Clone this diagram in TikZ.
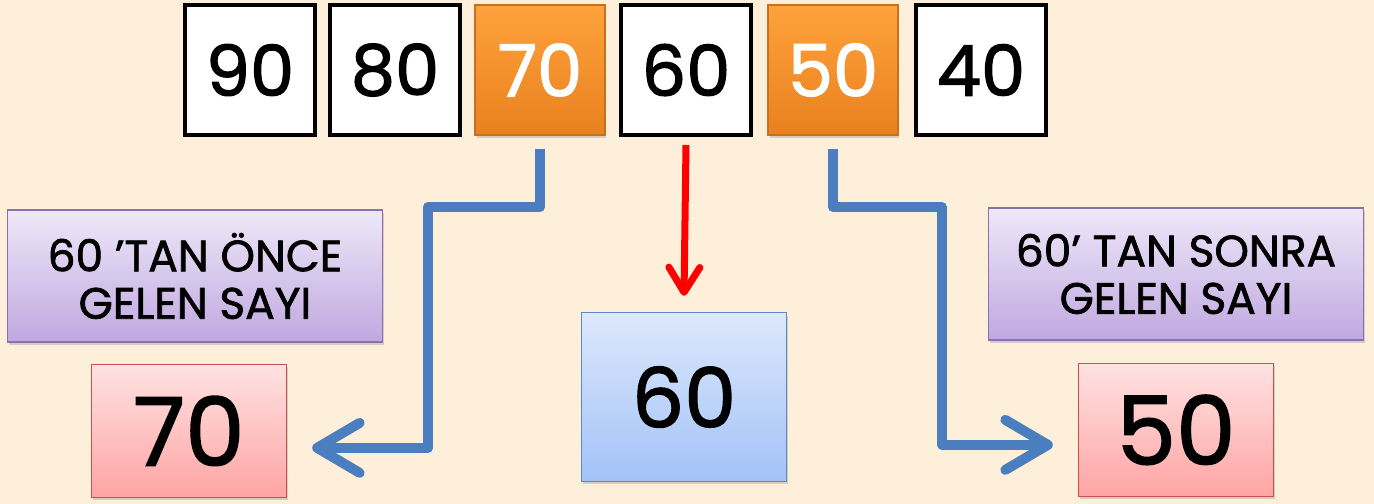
\documentclass[tikz,border=0pt]{standalone}
\usepackage{fontspec}
\setmainfont{Poppins}[FakeBold=1.6]
\usetikzlibrary{positioning, arrows.meta, shadows}

\definecolor{bgcream}{HTML}{FDEFDA}
\definecolor{orangetop}{HTML}{FFA23C}
\definecolor{orangebot}{HTML}{E8811F}
\definecolor{orangeedge}{HTML}{C8701E}
\definecolor{purpletop}{HTML}{EEE8F8}
\definecolor{purplebot}{HTML}{C0A8E0}
\definecolor{purpleedge}{HTML}{8A70B0}
\definecolor{redtop}{HTML}{FFE2E2}
\definecolor{redbot}{HTML}{FFA4A4}
\definecolor{rededge}{HTML}{C8504D}
\definecolor{bluetop}{HTML}{DDE8FC}
\definecolor{bluebot}{HTML}{A2C2F8}
\definecolor{blueedge}{HTML}{5A8AC8}
\definecolor{lineblue}{HTML}{4A7EBF}

\begin{document}
\begin{tikzpicture}[x=0.02cm, y=-0.02cm,
        softshadow/.style={drop shadow={shadow xshift=0.03cm, shadow yshift=-0.06cm, opacity=0.3}},
        numbox/.style={rectangle, draw=black, line width=0.08cm, fill=white, minimum width=2.6cm, minimum height=2.6cm, inner sep=0pt, font=\fontsize{40}{40}\selectfont},
        orangebox/.style={rectangle, draw=orangeedge, line width=0.6pt, top color=orangetop, bottom color=orangebot, minimum width=2.6cm, minimum height=2.6cm, inner sep=0pt, text=white, font=\fontsize{41}{41}\selectfont, softshadow},
        labelbox/.style={rectangle, draw=purpleedge, line width=0.8pt, top color=purpletop, bottom color=purplebot, minimum width=7.5cm, minimum height=2.64cm, align=center, font=\fontsize{25}{27}\selectfont, softshadow},
        resultbox/.style={rectangle, draw=rededge, line width=0.8pt, top color=redtop, bottom color=redbot, minimum width=3.9cm, minimum height=2.66cm, inner sep=0pt, font=\fontsize{54}{54}\selectfont, softshadow},
        middlebox/.style={rectangle, draw=blueedge, line width=0.8pt, top color=bluetop, bottom color=bluebot, minimum width=4.1cm, minimum height=3.38cm, inner sep=0pt, font=\fontsize{47}{47}\selectfont, softshadow},
        bluepath/.style={draw=lineblue, line width=0.2cm, line join=round, -{Straight Barb[round, line width=0.2cm, length=0.85cm, width=1cm]}},
        redpath/.style={draw=red, line width=0.14cm, -{Straight Barb[round, line width=0.14cm, length=0.5cm, width=0.62cm]}}]
        \fill[bgcream] (0,0) rectangle (1374,504);
        \useasboundingbox (0,0) rectangle (1374,504);

        % Number row
        \foreach \v/\x/\s in {90/250/numbox, 80/395/numbox, 70/540/orangebox, 60/686/numbox, 50/833/orangebox, 40/981/numbox} {
                \node[\s] (n\v) at (\x,70) {\v};
        }

        % Labels and results
        \node[labelbox] (before) at (195,276) {60 ’TAN ÖNCE\\GELEN SAYI};
        \node[resultbox] (res70) [below=0.42cm of before, xshift=-0.12cm] {70};
        \node[labelbox] (after) at (1176,274) {60’ TAN SONRA\\GELEN SAYI};
        \node[resultbox] (res50) [below=0.44cm of after] {50};
        \node[middlebox] (res60) at (684,397) {60};

        % Arrows
        \draw[bluepath] ([yshift=-0.26cm]n70.south) |- (428,207) |- ([xshift=0.5cm, yshift=-0.34cm]res70.east);
        \draw[bluepath] ([yshift=-0.26cm]n50.south) |- (942,207) |- ([xshift=-0.5cm, yshift=-0.3cm]res50.west);
        \draw[redpath] ([yshift=-0.16cm]n60.south) -- ([yshift=0.32cm]res60.north);
\end{tikzpicture}
\end{document}
